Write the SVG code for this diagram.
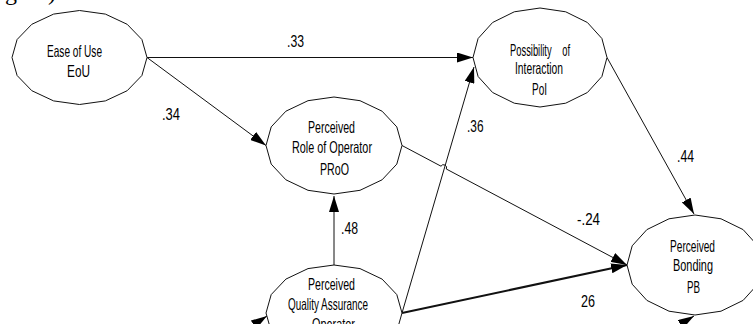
<svg xmlns="http://www.w3.org/2000/svg" width="753" height="324" viewBox="0 0 753 324">
<style>
.t{font-family:"Liberation Sans Narrow","Liberation Sans",Arial,sans-serif;font-size:16.5px;fill:#000}
.cap{font-family:"Liberation Serif","Times New Roman",serif;font-size:24px;fill:#000}
.n{fill:#fff;stroke:#111;stroke-width:1}
.c{fill:none;stroke:#111;stroke-width:1}
.thick{fill:none;stroke:#111;stroke-width:2}
</style>
<defs>
<marker id="ah" markerUnits="userSpaceOnUse" markerWidth="16" markerHeight="10" refX="16" refY="5" orient="auto">
<path d="M0,0 L16,5 L0,10 Z" fill="#000"/>
</marker>
</defs>
<rect width="753" height="324" fill="#fff"/>
<text class="cap" x="5" y="0">g</text>
<text class="cap" x="48" y="0">)</text>
<g id="connectors">
<line class="c" x1="147" y1="57.5" x2="473" y2="57.5" marker-end="url(#ah)"/>
<line class="c" x1="147" y1="57.5" x2="266" y2="145.5" marker-end="url(#ah)"/>
<line class="c" x1="334" y1="265" x2="334" y2="196" marker-end="url(#ah)"/>
<line class="c" x1="402" y1="313" x2="474" y2="67" marker-end="url(#ah)"/>
<line class="c" x1="607" y1="57.5" x2="694" y2="214" marker-end="url(#ah)"/>
<path class="c" d="M402,145.5 L441,166.2 A3,3 0 0 1 446.3,169 L627,265" marker-end="url(#ah)"/>
<line class="thick" x1="402" y1="313" x2="627" y2="265" marker-end="url(#ah)"/>
<line class="c" x1="230" y1="340" x2="267" y2="316" marker-end="url(#ah)"/>
<line class="c" x1="655" y1="340" x2="694" y2="316" marker-end="url(#ah)"/>
<text class="t" x="287" y="47" textLength="17" lengthAdjust="spacingAndGlyphs">.33</text>
<text class="t" x="162" y="120" textLength="18" lengthAdjust="spacingAndGlyphs">.34</text>
<text class="t" x="341" y="234" textLength="17" lengthAdjust="spacingAndGlyphs">.48</text>
<text class="t" x="467" y="131.5" textLength="16.5" lengthAdjust="spacingAndGlyphs">.36</text>
<text class="t" x="677" y="161.5" textLength="17" lengthAdjust="spacingAndGlyphs">.44</text>
<text class="t" x="577" y="225" textLength="23" lengthAdjust="spacingAndGlyphs">-.24</text>
<text class="t" x="581" y="306.5" textLength="14" lengthAdjust="spacingAndGlyphs">26</text>
</g>
<g id="EoU">
<polygon class="n" points="147,57.5 141.9,75.5 127.2,90.7 105.4,100.9 79.5,104.5 53.6,100.9 31.8,90.7 17.1,75.5 12,57.5 17.1,39.5 31.8,24.3 53.6,14.1 79.5,10.5 105.4,14.1 127.2,24.3 141.9,39.5"/>
<text class="t" x="47" y="57" textLength="55" lengthAdjust="spacingAndGlyphs">Ease of Use</text>
<text class="t" x="67" y="77" textLength="23" lengthAdjust="spacingAndGlyphs">EoU</text>
</g>
<g id="PoI">
<polygon class="n" points="607,57.5 601.9,76.5 587.4,92.5 565.7,103.2 540,107 514.3,103.2 492.6,92.5 478.1,76.5 473,57.5 478.1,38.5 492.6,22.5 514.3,11.8 540,8 565.7,11.8 587.4,22.5 601.9,38.5"/>
<text class="t" x="510" y="55.5" style="word-spacing:14px" textLength="60" lengthAdjust="spacingAndGlyphs">Possibility of</text>
<text class="t" x="515" y="74" textLength="48" lengthAdjust="spacingAndGlyphs">Interaction</text>
<text class="t" x="532" y="95" textLength="15" lengthAdjust="spacingAndGlyphs">PoI</text>
</g>
<g id="PRoO">
<polygon class="n" points="402,145.5 396.8,164.1 382.1,179.8 360,190.3 334,194 308,190.3 285.9,179.8 271.2,164.1 266,145.5 271.2,126.9 285.9,111.2 308,100.7 334,97 360,100.7 382.1,111.2 396.8,126.9"/>
<text class="t" x="308" y="133" textLength="47" lengthAdjust="spacingAndGlyphs">Perceived</text>
<text class="t" x="292" y="153" textLength="80" lengthAdjust="spacingAndGlyphs">Role of Operator</text>
<text class="t" x="320" y="175" textLength="29" lengthAdjust="spacingAndGlyphs">PRoO</text>
</g>
<g id="PQAO">
<polygon class="n" points="402,313 396.8,331.4 382.1,346.9 360,357.4 334,361 308,357.4 285.9,346.9 271.2,331.4 266,313 271.2,294.6 285.9,279.1 308,268.6 334,265 360,268.6 382.1,279.1 396.8,294.6"/>
<text class="t" x="308" y="290" textLength="47" lengthAdjust="spacingAndGlyphs">Perceived</text>
<text class="t" x="288" y="310" textLength="80" lengthAdjust="spacingAndGlyphs">Quality Assurance</text>
<text class="t" x="312" y="330" textLength="43" lengthAdjust="spacingAndGlyphs">Operator</text>
</g>
<g id="PB">
<polygon class="n" points="763,265 757.8,284.2 743.1,300.4 721,311.2 695,315 669,311.2 646.9,300.4 632.2,284.2 627,265 632.2,245.8 646.9,229.6 669,218.8 695,215 721,218.8 743.1,229.6 757.8,245.8"/>
<text class="t" x="670" y="251.5" textLength="45" lengthAdjust="spacingAndGlyphs">Perceived</text>
<text class="t" x="673" y="270.5" textLength="40" lengthAdjust="spacingAndGlyphs">Bonding</text>
<text class="t" x="687" y="292.5" textLength="13" lengthAdjust="spacingAndGlyphs">PB</text>
</g>
</svg>
